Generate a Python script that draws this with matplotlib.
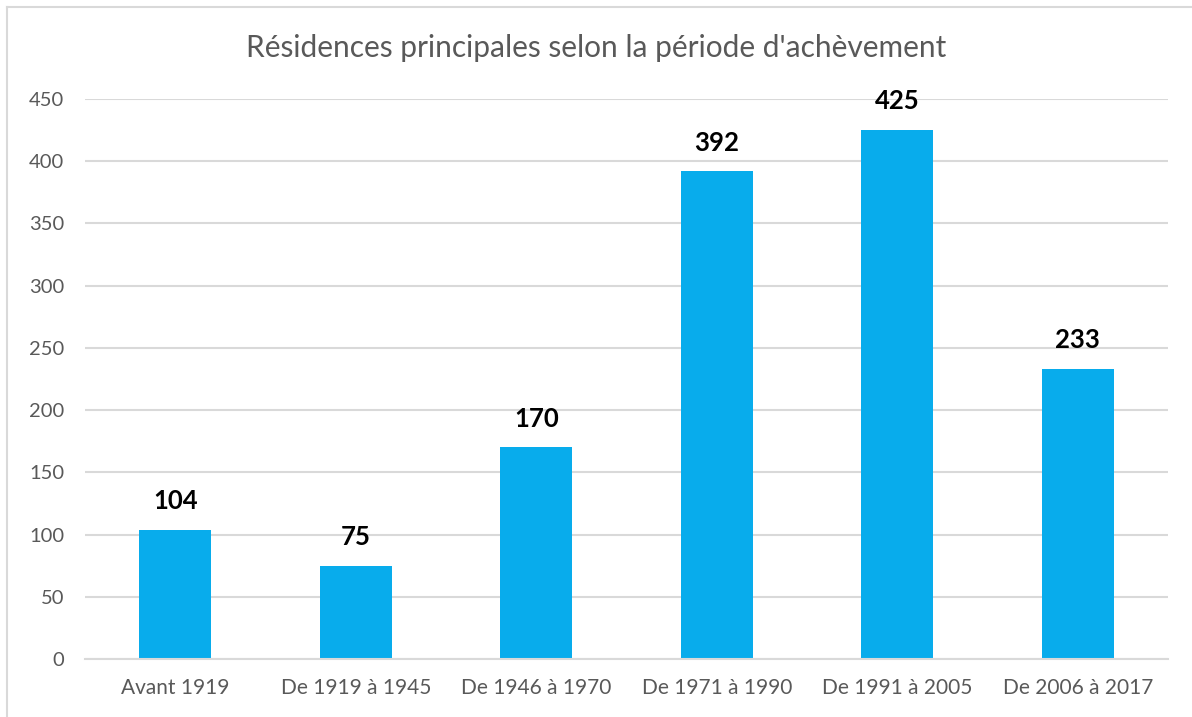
import matplotlib.pyplot as plt
from matplotlib.lines import Line2D

# Data
periods = ["Avant 1919", "De 1919 à 1945", "De 1946 à 1970",
           "De 1971 à 1990", "De 1991 à 2005", "De 2006 à 2017"]
counts = [104, 75, 170, 392, 425, 233]
yticks = [0, 50, 100, 150, 200, 250, 300, 350, 400, 450]

plt.rcParams['font.family'] = ['Lato', 'DejaVu Sans']
grey = '#595959'

fig = plt.figure(figsize=(11.92, 7.17), dpi=100)
ax = fig.add_axes([85 / 1192, 1 - 659 / 717, (1168 - 85) / 1192, (659 - 99) / 717])

bars = ax.bar(range(len(periods)), counts, width=0.4, color='#08ACEC', zorder=2)

# value labels above bars
for rect, v in zip(bars, counts):
    ax.annotate(str(v), (rect.get_x() + rect.get_width() / 2, v),
                xytext=(0, 12), textcoords='offset points',
                ha='center', va='bottom', fontsize=18.5, fontweight='bold',
                color='black')

ax.set_xlim(-0.5, len(periods) - 0.5)
ax.set_ylim(0, 450)
ax.set_yticks(yticks)
ax.set_xticks(range(len(periods)))
ax.set_xticklabels(periods)
ax.tick_params(axis='y', length=0, pad=15, labelsize=14.5, labelcolor=grey)
ax.tick_params(axis='x', length=0, pad=14, labelsize=15, labelcolor=grey)

ax.grid(axis='y', color='#D9D9D9', linewidth=1.5, zorder=0)
ax.set_axisbelow(True)
for side in ['top', 'right', 'left']:
    ax.spines[side].set_visible(False)
ax.spines['bottom'].set_color('#D9D9D9')
ax.spines['bottom'].set_linewidth(1.5)

fig.text(0.5, 1 - 48 / 717, "Résidences principales selon la période d'achèvement",
         ha='center', va='center', fontsize=21.5, color=grey)

# light frame of the chart area (left and top edges visible)
fig.add_artist(Line2D([7.5 / 1192, 7.5 / 1192], [0, 1 - 7 / 717],
                      transform=fig.transFigure, color='#D9D9D9', linewidth=1.5))
fig.add_artist(Line2D([7.5 / 1192, 1], [1 - 7 / 717, 1 - 7 / 717],
                      transform=fig.transFigure, color='#D9D9D9', linewidth=1.5))

fig.savefig('out.png', dpi=100)
